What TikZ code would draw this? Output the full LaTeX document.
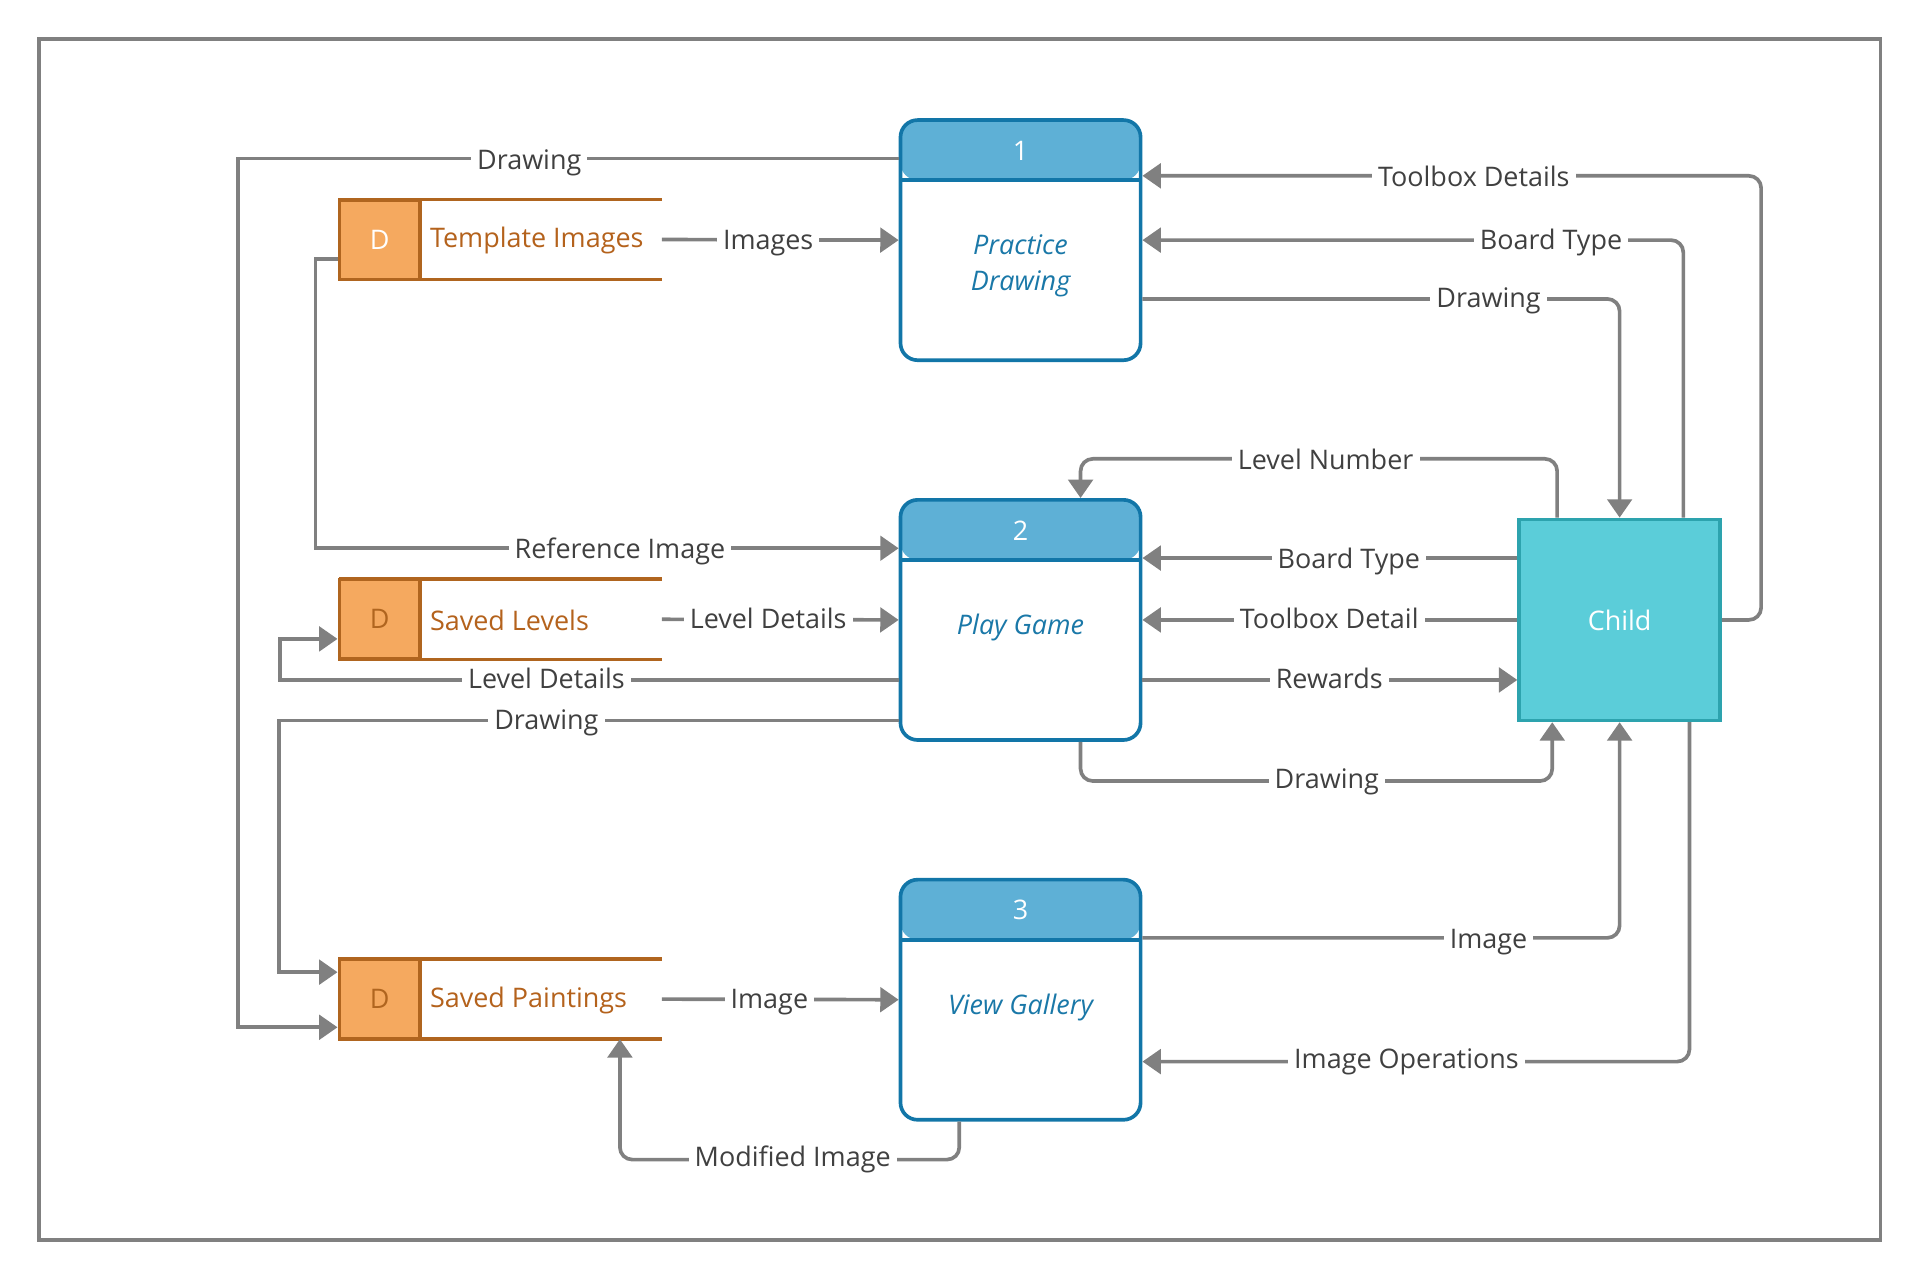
\documentclass[tikz,border=0pt]{standalone}
\usepackage{fontspec}
\setmainfont{Open Sans}
\usetikzlibrary{arrows.meta,calc}
\definecolor{connc}{HTML}{808080}
\definecolor{lbltxt}{HTML}{404040}
\definecolor{procb}{HTML}{1276A8}
\definecolor{hdr}{HTML}{5EB0D6}
\definecolor{proctxt}{HTML}{1A78A8}
\definecolor{childf}{HTML}{5BCDD9}
\definecolor{childb}{HTML}{2DA3AE}
\definecolor{storef}{HTML}{F5A95F}
\definecolor{storeb}{HTML}{B0651F}
\definecolor{storetxt}{HTML}{B4621C}
\begin{document}
\begin{tikzpicture}[x=1pt,y=-1pt,
  font=\fontsize{22}{26}\selectfont,
  proc/.style={draw=procb, line width=3pt, rounded corners=14pt, fill=white,
    minimum width=196pt, minimum height=196pt, inner sep=0pt,
    path picture={\fill[hdr] (path picture bounding box.north west) rectangle ([yshift=-49pt]path picture bounding box.north east);
      \draw[procb, line width=3pt] ([yshift=-49pt]path picture bounding box.north west) -- ([yshift=-49pt]path picture bounding box.north east);}},
  pnum/.style={text=white},
  ptext/.style={text=proctxt, font=\fontsize{22}{30}\selectfont\itshape, align=center},
  dbox/.style={draw=storeb, fill=storef, line width=3pt, minimum width=66pt, minimum height=65pt, inner sep=0pt},
  store/.style={minimum width=263pt, minimum height=65pt, inner sep=0pt},
  sline/.style={draw=storeb, line width=3pt},
  stext/.style={text=storetxt, anchor=west},
  conn/.style={draw=connc, line width=3pt},
  rc/.style={rounded corners=10pt},
  arr/.style={-{Triangle[length=15pt,width=20pt]}},
  lbl/.style={fill=white, text=lbltxt, inner xsep=5pt, inner ysep=0pt, text height=14.5pt, text depth=0pt}
]
\useasboundingbox (0,0) rectangle (1568,1045);
\draw[connc, line width=3pt] (32,32) rectangle (1535,1012);

% processes
\node[proc] (p1) at (833,196) {};
\node[proc] (p2) at (833,506) {};
\node[proc] (p3) at (833,816) {};
\node[pnum] (p1n) at (833,123) {1};
\node[pnum] (p2n) at (833,433) {2};
\node[pnum] (p3n) at (833,743) {3};
\node[ptext] (p1t) at (833,217) {Practice\\Drawing};
\node[ptext] (p2t) at (833,512) {Play Game};
\node[ptext] (p3t) at (833,822) {View Gallery};

% external entity
\node[draw=childb, fill=childf, line width=3pt, minimum width=164pt, minimum height=164pt, inner sep=0pt, text=white] (child) at (1322,506) {Child};

% data stores
\node[store] (s1) at (408.5,195.5) {};
\node[store] (s2) at (408.5,505.5) {};
\node[store] (s3) at (408.5,815.5) {};
\foreach \s in {s1,s2,s3}{
  \draw[sline] (\s.north west) -- (\s.north east);
  \draw[sline] (\s.south west) -- (\s.south east);
}
\node[dbox, text=white] (d1) at (310,195.5) {D};
\node[dbox, text=storeb] (d2) at (310,505.5) {D};
\node[dbox, text=storeb] (d3) at (310,815.5) {D};
\node[stext] (s1t) at ([xshift=3pt,yshift=-1pt]d1.east) {Template Images};
\node[stext] (s2t) at ([xshift=3pt,yshift=-1pt]d2.east) {Saved Levels};
\node[stext] (s3t) at ([xshift=3pt,yshift=-1pt]d3.east) {Saved Paintings};

% connectors
\draw[conn,arr] ([yshift=-33pt]p1.north west) -| ([xshift=-81pt,yshift=-23pt]d3.west) -- ([yshift=-23pt]d3.west);
\draw[conn,arr] (s1.east) -- (p1.west);
\draw[conn,arr] ([yshift=-16pt]d1.west) -- ++(-18,0) |- ([yshift=-41pt]p2.north west);
\draw[conn,arr] (s2.east) -- (p2.west);
\draw[conn,arr] ([yshift=-49pt]p2.west) -| ([xshift=-47pt,yshift=-16pt]d2.west) -- ([yshift=-16pt]d2.west);
\draw[conn,arr] ([yshift=-82pt]p2.west) -| ([xshift=-48pt,yshift=22pt]d3.west) -- ([yshift=22pt]d3.west);
\draw[conn,arr] (s3.east) -- (p3.west);
\draw[conn,arr,rc] ([xshift=-50pt]p3.south) -- ++(0,31) -| ([xshift=97.5pt]s3.south);
\draw[conn,arr,rc] (child.east) -- ++(32,0) |- ([yshift=-47pt]p1.north east);
\draw[conn,arr,rc] ([xshift=52pt]child.north) |- (p1.east);
\draw[conn,arr,rc] ([yshift=-48pt]p1.east) -| (child.north);
\draw[conn,arr,rc] ([xshift=-51pt]child.north) -- ++(0,-48) -| ([xshift=49pt]p2.north);
\draw[conn,arr] ([yshift=-33pt]child.north west) -- ([yshift=-49pt]p2.north east);
\draw[conn,arr] (child.west) -- (p2.east);
\draw[conn,arr] ([yshift=-49pt]p2.east) -- ([yshift=-49pt]child.west);
\draw[conn,arr,rc] ([xshift=49pt]p2.south) -- ++(0,32) -| ([xshift=-55pt]child.south);
\draw[conn,arr,rc] ([yshift=-49pt]p3.north east) -| (child.south);
\draw[conn,arr,rc] ([xshift=57pt]child.south) |- ([yshift=49pt]p3.south east);

% labels
\node[lbl] (l1) at (432,131) {Drawing};
\node[lbl] (l2) at (627,196) {Images};
\node[lbl] (l3) at (506,449) {Reference Image};
\node[lbl] (l4) at (627,506) {Level Details};
\node[lbl] (l5) at (446,555) {Level Details};
\node[lbl] (l6) at (446,588) {Drawing};
\node[lbl] (l7) at (628,816) {Image};
\node[lbl] (l8) at (647,945) {Modified Image};
\node[lbl] (l9) at (1203,145) {Toolbox Details};
\node[lbl] (l10) at (1266,196) {Board Type};
\node[lbl] (l11) at (1215,244) {Drawing};
\node[lbl] (l12) at (1082,376) {Level Number};
\node[lbl] (l13) at (1101,457) {Board Type};
\node[lbl] (l14) at (1085,506) {Toolbox Detail};
\node[lbl] (l15) at (1085,555) {Rewards};
\node[lbl] (l16) at (1083,636) {Drawing};
\node[lbl] (l17) at (1215,767) {Image};
\node[lbl] (l18) at (1148,865) {Image Operations};
\end{tikzpicture}
\end{document}
